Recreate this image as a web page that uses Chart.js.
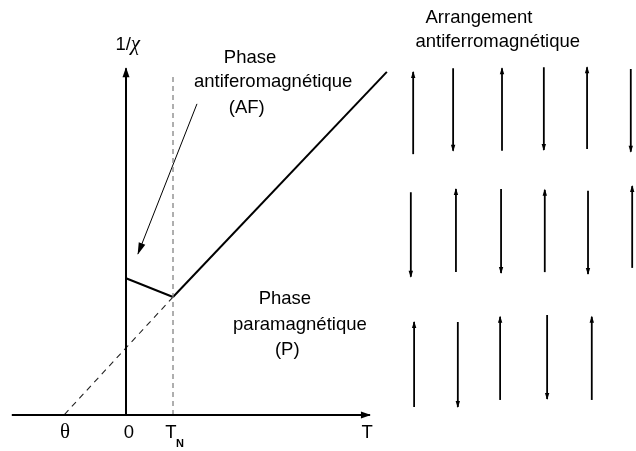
<!DOCTYPE html>
<html>
<head>
<meta charset="utf-8">
<script src="https://cdn.jsdelivr.net/npm/chart.js@4.4.0/dist/chart.umd.min.js"></script>
<style>
  html, body { margin: 0; padding: 0; background: #fff; }
  #wrap { width: 636px; height: 451px; }
</style>
</head>
<body>
<div id="wrap"><canvas id="c" width="636" height="451"></canvas></div>
<script>
// 1/χ en fonction de T (unités arbitraires, T_N = 1)
const tAxis = [-2.43, 5.19];
const chiAxisTop = 7.38;
const tN = 1;
const theta = -1.32;
const tNLineTop = 7.21;
const afT = [0, 1];
const afInvChi = [2.91, 2.51];
const paraT = [1, 5.55];
const paraInvChi = [2.51, 7.3];
const extraT = [1, theta]; // extrapolation jusqu'à θ
const extraInvChi = [2.51, 0];
const pointerFrom = [1.51, 6.62];
const pointerTo = [0.255, 3.43];

// graduations
const tickValues = [theta, 0, tN];
const tickLabels = ["θ", "0", "T"];

// arrangement antiferromagnétique : 3 rangées de spins
const spinX = [
  [6.11, 6.96, 8.0, 8.89, 9.81, 10.74],
  [6.06, 7.02, 7.98, 8.91, 9.83, 10.77],
  [6.13, 7.06, 7.96, 8.96, 9.91],
];
const spinTop = [
  [7.3, 7.38, 7.38, 7.4, 7.4, 7.36],
  [4.74, 4.81, 4.81, 4.79, 4.77, 4.87],
  [1.98, 1.98, 2.09, 2.13, 2.09],
];
const spinBottom = [
  [5.55, 5.62, 5.62, 5.64, 5.66, 5.6],
  [2.94, 3.04, 3.02, 3.04, 3.0, 3.13],
  [0.17, 0.17, 0.32, 0.34, 0.32],
];
// +1 = spin vers le haut, -1 = vers le bas
const spinDir = [
  [1, -1, 1, -1, 1, -1],
  [-1, 1, -1, 1, -1, 1],
  [1, -1, 1, -1, 1],
];

// textes (position en unités du graphe)
const FONT = "Liberation Sans, Arial, sans-serif";
const textLabels = [
  { text: "Phase", x: 2.64, y: 7.49 },
  { text: "antiferomagnétique", x: 3.13, y: 6.98 },
  { text: "(AF)", x: 2.57, y: 6.43 },
  { text: "Phase", x: 3.38, y: 2.36 },
  { text: "paramagnétique", x: 3.7, y: 1.81 },
  { text: "(P)", x: 3.43, y: 1.28 },
  { text: "Arrangement", x: 7.51, y: 8.34 },
  { text: "antiferromagnétique", x: 7.91, y: 7.83 },
  { text: "T", x: 5.13, y: -0.49 },
];
const yTitle = { x: 0.06, y: 7.77 };

function seg(x0, y0, x1, y1) {
  return [{ x: x0, y: y0 }, { x: x1, y: y1 }];
}

function lineDs(data, opts) {
  return Object.assign(
    {
      data: data,
      showLine: true,
      pointRadius: 0,
      borderColor: "#000",
      borderWidth: 2,
      fill: false,
      clip: false,
    },
    opts || {}
  );
}

const datasets = [];
// axes
datasets.push(lineDs(seg(tAxis[0], 0, tAxis[1], 0), { head: { len: 9, w: 3.5 } }));
datasets.push(lineDs(seg(0, 0, 0, chiAxisTop), { head: { len: 9, w: 3.5 } }));
// T_N pointillé
datasets.push(
  lineDs(seg(tN, 0, tN, tNLineTop), { borderColor: "#7a7a7a", borderWidth: 1.2, borderDash: [5, 4] })
);
// extrapolation vers θ
datasets.push(
  lineDs(seg(extraT[0], extraInvChi[0], extraT[1], extraInvChi[1]), {
    borderColor: "#222",
    borderWidth: 1.1,
    borderDash: [6, 5],
  })
);
// phase AF
datasets.push(lineDs(seg(afT[0], afInvChi[0], afT[1], afInvChi[1])));
// phase P
datasets.push(lineDs(seg(paraT[0], paraInvChi[0], paraT[1], paraInvChi[1])));
// flèche vers la phase AF
datasets.push(
  lineDs(seg(pointerFrom[0], pointerFrom[1], pointerTo[0], pointerTo[1]), {
    borderWidth: 1,
    head: { len: 11, w: 3.5 },
  })
);
// spins
spinX.forEach((row, r) => {
  row.forEach((x, i) => {
    const up = spinDir[r][i] > 0;
    const data = up
      ? seg(x, spinBottom[r][i], x, spinTop[r][i])
      : seg(x, spinTop[r][i], x, spinBottom[r][i]);
    datasets.push(lineDs(data, { borderWidth: 1.8, head: { len: 6, w: 2.2 } }));
  });
});

// pointes de flèches au bout des segments
const arrowHeads = {
  id: "arrowHeads",
  afterDatasetsDraw(chart) {
    const ctx = chart.ctx;
    chart.data.datasets.forEach((ds, i) => {
      if (!ds.head) return;
      const pts = chart.getDatasetMeta(i).data;
      const p1 = pts[pts.length - 2];
      const p2 = pts[pts.length - 1];
      const a = Math.atan2(p2.y - p1.y, p2.x - p1.x);
      const L = ds.head.len, W = ds.head.w;
      ctx.save();
      ctx.fillStyle = ds.borderColor;
      ctx.translate(p2.x, p2.y);
      ctx.rotate(a);
      ctx.beginPath();
      ctx.moveTo(1, 0);
      ctx.lineTo(-L, -W);
      ctx.lineTo(-L, W);
      ctx.closePath();
      ctx.fill();
      ctx.restore();
    });
  },
};

// textes et graduations
const texts = {
  id: "texts",
  afterDraw(chart) {
    const ctx = chart.ctx;
    const xs = chart.scales.x, ys = chart.scales.y;
    ctx.save();
    ctx.fillStyle = "#000";
    ctx.textAlign = "center";
    ctx.textBaseline = "alphabetic";
    ctx.font = "18.5px " + FONT;
    textLabels.forEach((t) => {
      ctx.fillText(t.text, xs.getPixelForValue(t.x), ys.getPixelForValue(t.y));
    });
    // titre de l'axe vertical : 1/χ
    const tx = xs.getPixelForValue(yTitle.x), ty = ys.getPixelForValue(yTitle.y);
    ctx.textAlign = "right";
    ctx.fillText("1/", tx + 2, ty);
    ctx.textAlign = "left";
    ctx.font = "italic 21px Liberation Serif, serif";
    ctx.fillText("χ", tx + 2, ty);
    ctx.textAlign = "center";

    const base = ys.getPixelForValue(-0.49);
    tickValues.forEach((v, i) => {
      const px = xs.getPixelForValue(v);
      if (tickLabels[i] === "θ") {
        ctx.font = "21px Liberation Serif, serif";
        ctx.fillText("θ", px + 1, base);
      } else if (i === 2) {
        ctx.font = "18.5px " + FONT;
        ctx.fillText("T", px - 2, base);
        ctx.font = "bold 11px " + FONT;
        ctx.fillText("N", px + 7, base + 9);
      } else {
        ctx.font = "18.5px " + FONT;
        ctx.fillText(tickLabels[i], px + 3, base);
      }
    });
    ctx.restore();
  },
};

new Chart(document.getElementById("c"), {
  type: "scatter",
  data: { datasets: datasets },
  options: {
    responsive: false,
    animation: false,
    layout: { padding: 0 },
    plugins: { legend: { display: false }, tooltip: { enabled: false } },
    scales: {
      x: { type: "linear", min: -2.681, max: 10.851, display: false },
      y: { type: "linear", min: -0.766, max: 8.83, display: false },
    },
  },
  plugins: [arrowHeads, texts],
});
</script>
</body>
</html>
